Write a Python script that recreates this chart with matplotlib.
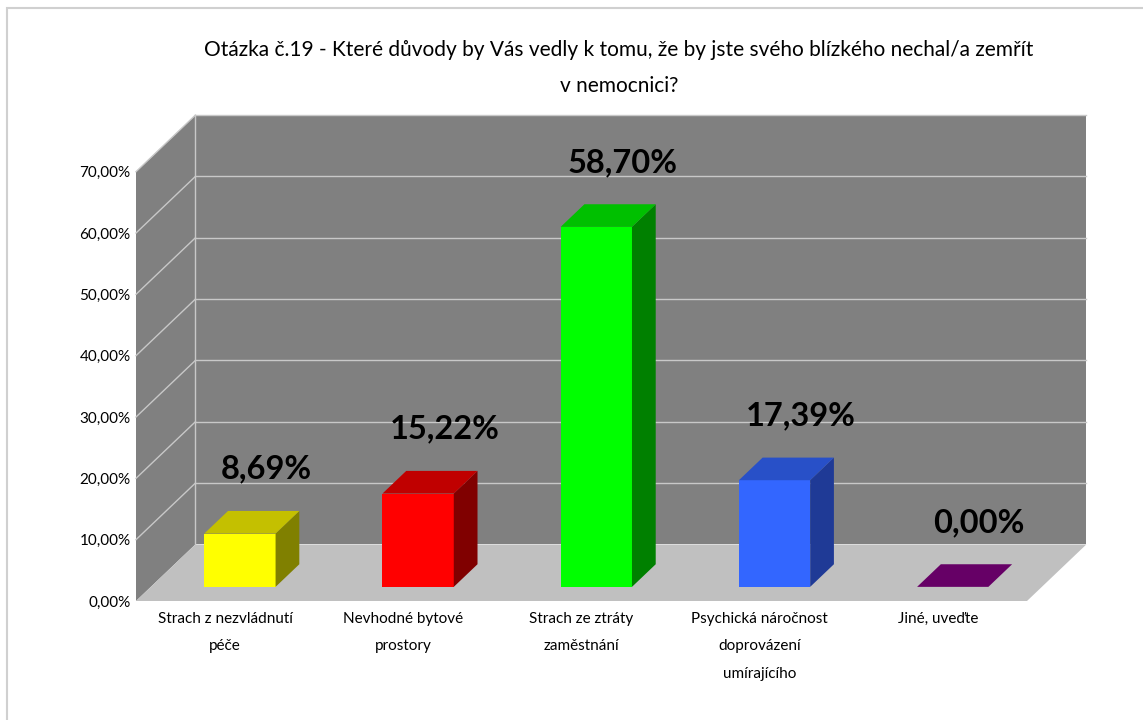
import matplotlib.pyplot as plt
from matplotlib.patches import Polygon, Rectangle

plt.rcParams['font.family'] = ['Lato', 'DejaVu Sans']

# data
categories = ['Strach z nezvládnutí\npéče', 'Nevhodné bytové\nprostory',
              'Strach ze ztráty\nzaměstnání',
              'Psychická náročnost\ndoprovázení\numírajícího', 'Jiné, uveďte']
values = [8.69, 15.22, 58.70, 17.39, 0.00]
value_labels = ['8,69%', '15,22%', '58,70%', '17,39%', '0,00%']
front_colors = ['#FFFF00', '#FF0000', '#00FF00', '#3366FF', '#660066']
top_colors = ['#C4C000', '#C00000', '#00C000', '#2850C8', '#660066']
side_colors = ['#808000', '#800000', '#008000', '#1F3A96', '#4C004C']
yticks = [0, 10, 20, 30, 40, 50, 60, 70]

title = ('Otázka č.19 - Které důvody by Vás vedly k tomu, že by jste svého blízkého nechal/a zemřít\n'
         'v nemocnici?')

# fake 3D: depth offset in data units
DX, DY = 0.333, 9.22
d0, d1 = 0.25, 0.65   # bar depth range
w = 0.40              # bar width
wall = '#808080'
grid = '#C8C8C8'

fig = plt.figure(figsize=(11.43, 7.2), dpi=100)
ax = fig.add_axes([136 / 1143, 119 / 720, 891 / 1143, (601 - 171.7) / 720])
ax.set_xlim(-0.5, 4.5)
ax.set_ylim(0, 70)
for s in ax.spines.values():
    s.set_visible(False)
ax.patch.set_visible(False)

x0, x1 = -0.5, 4.5
# back wall
ax.add_patch(Polygon([(x0 + DX, DY), (x1 + DX, DY), (x1 + DX, 70 + DY), (x0 + DX, 70 + DY)],
                     closed=True, facecolor=wall, edgecolor='none', clip_on=False, zorder=1))
# side wall
ax.add_patch(Polygon([(x0, 0), (x0 + DX, DY), (x0 + DX, 70 + DY), (x0, 70)],
                     closed=True, facecolor=wall, edgecolor='none', clip_on=False, zorder=1))
# floor
ax.add_patch(Polygon([(x0, 0), (x1, 0), (x1 + DX, DY), (x0 + DX, DY)],
                     closed=True, facecolor='#C0C0C0', edgecolor='none', clip_on=False, zorder=1))

# gridlines
for v in yticks[1:]:
    ax.plot([x0 + DX, x1 + DX], [v + DY, v + DY], color=grid, lw=1, clip_on=False, zorder=2)
    ax.plot([x0, x0 + DX], [v, v + DY], color=grid, lw=1, clip_on=False, zorder=2)
ax.plot([x0 + DX, x0 + DX], [DY, 70 + DY], color=grid, lw=1, clip_on=False, zorder=2)

# bars
for i, v in enumerate(values):
    a, b = i - w / 2, i + w / 2
    fa, fb = a + d0 * DX, b + d0 * DX
    ba, bb = a + d1 * DX, b + d1 * DX
    yf, yb = d0 * DY, d1 * DY
    if v > 0:
        ax.add_patch(Polygon([(fa, yf), (fb, yf), (fb, v + yf), (fa, v + yf)], closed=True,
                             facecolor=front_colors[i], edgecolor='none', clip_on=False, zorder=4))
        ax.add_patch(Polygon([(fb, yf), (bb, yb), (bb, v + yb), (fb, v + yf)], closed=True,
                             facecolor=side_colors[i], edgecolor='none', clip_on=False, zorder=4))
    ax.add_patch(Polygon([(fa, v + yf), (fb, v + yf), (bb, v + yb), (ba, v + yb)], closed=True,
                         facecolor=top_colors[i], edgecolor='none', clip_on=False, zorder=4))
    ax.annotate(value_labels[i], xy=(i + d1 * DX, v + yb), xytext=(2, 30),
                textcoords='offset points', ha='center', va='center',
                fontsize=23.5, fontweight='bold', color='black', zorder=5,
                annotation_clip=False)

ax.set_yticks(yticks)
ax.set_yticklabels(['%d,00%%' % t for t in yticks], fontsize=11)
ax.set_xticks(range(len(categories)))
ax.set_xticklabels(categories, fontsize=11, linespacing=2.2)
ax.tick_params(axis='y', length=0, pad=4)
ax.tick_params(axis='x', length=0, pad=8)

fig.text(619 / 1143, 1 - 40 / 720, title, ha='center', va='top', fontsize=15,
         linespacing=2.0)

# chart border
fig.patches.append(Rectangle((7 / 1143, -0.05), 1.2, 1 - 8 / 720 + 0.05, transform=fig.transFigure,
                             facecolor='none', edgecolor='#D0D0D0', lw=1.5))

fig.savefig('out.png', dpi=100)
